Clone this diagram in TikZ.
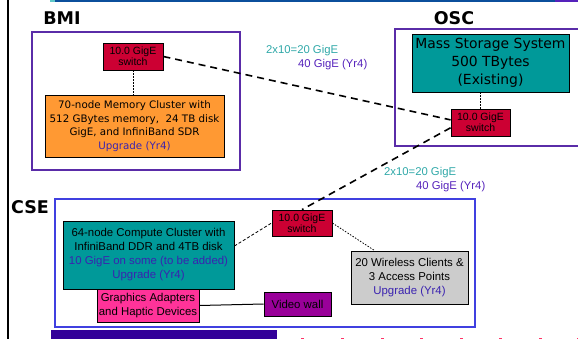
\documentclass[tikz,border=0pt]{standalone}
\usepackage{fontspec}
\setmainfont{Liberation Sans}
\newfontfamily\comicf{DejaVu Sans}
\definecolor{swred}{HTML}{CC0033}
\definecolor{orangef}{HTML}{FF9933}
\definecolor{tealf}{HTML}{009999}
\definecolor{pinkf}{HTML}{FF3399}
\definecolor{vwall}{HTML}{990099}
\definecolor{greyf}{HTML}{CCCCCC}
\definecolor{regpurple}{HTML}{5A2CA8}
\definecolor{regblue}{HTML}{4040E0}
\definecolor{upg}{HTML}{3A22B0}
\definecolor{labteal}{HTML}{2FA8A8}
\definecolor{labpurple}{HTML}{5522BB}
\definecolor{topblue}{HTML}{0B4F9C}
\definecolor{topteal}{HTML}{5FC8C8}
\definecolor{barpurple}{HTML}{330099}
\definecolor{markpink}{HTML}{FF3366}
\begin{document}
\begin{tikzpicture}[x=1pt,y=-1pt,
  nbox/.style={draw=black, line width=0.8pt, inner sep=0pt, align=center},
  swbox/.style={nbox, fill=swred, minimum width=60pt, minimum height=27pt,
     font=\fontsize{10.5}{11}\selectfont},
  region/.style={line width=1.6pt},
  title/.style={font=\comicf\bfseries\fontsize{17.5}{17.5}\selectfont},
  arial/.style={font=\fontsize{11.4}{14}\selectfont},
  lab/.style={anchor=west, inner sep=0pt, font=\fontsize{11.3}{13}\selectfont},
  trunk/.style={dashed, line width=1.6pt, dash pattern=on 7pt off 5pt},
  thindash/.style={line width=0.8pt, dash pattern=on 3pt off 2pt},
  dotline/.style={line width=0.8pt, dash pattern=on 1.5pt off 1.5pt}]
\useasboundingbox (0,0) rectangle (578,339);
% frame artifacts
\draw[line width=2pt, black] (8,0) -- (8,339);
\draw[line width=1.6pt, topteal] (50,0.8) -- (55,0.8);
\draw[line width=1.6pt, topblue] (55,0.8) -- (555,0.8);
\draw[line width=1.6pt, labpurple] (555,0.8) -- (578,0.8);
\fill[barpurple] (51,330) rectangle (277,339);
\foreach \x in {301,341,381,420,460,499,539,577}
  \fill[markpink] (\x,337.5) rectangle ++(3,1.5);
% regions
\draw[region, draw=regpurple] (32,32) rectangle (240,170);
\draw[region, draw=regpurple] (578,29) -- (395,29) -- (395,146) -- (578,146);
\draw[region, draw=regblue] (55,199) rectangle (475,327);
\node[title] (tbmi) at (62,18) {BMI};
\node[title] (tosc) at (454,18.5) {OSC};
\node[title] (tcse) at (30,207) {CSE};
% nodes
\node[swbox] (bmisw) at (133,56.5) {10.0 GigE\\switch};
\node[nbox, fill=orangef, minimum width=179pt, minimum height=62pt,
  font=\comicf\fontsize{10.3}{13.6}\selectfont] (mem) at (134.5,126)
  {70-node Memory Cluster with\\512 GBytes memory,~ 24 TB disk\\GigE, and InfiniBand SDR\\\textcolor{upg}{Upgrade (Yr4)}};
\node[nbox, fill=tealf, minimum width=157pt, minimum height=58pt,
  font=\comicf\fontsize{13.9}{18}\selectfont] (mass) at (490.5,63)
  {Mass Storage System\\500 TBytes\\(Existing)};
\node[swbox, minimum width=59pt] (oscsw) at (480.5,122.5) {10.0 GigE\\switch};
\node[swbox, minimum height=26pt] (csesw) at (302,223) {10.0 GigE\\switch};
\node[nbox, arial, fill=tealf, minimum width=171pt, minimum height=68pt] (comp) at (148.5,255)
  {64-node Compute Cluster with\\InfiniBand DDR and 4TB disk\\\textcolor{upg}{10 GigE on some (to be added)}\\\textcolor{upg}{Upgrade (Yr4)}};
\node[nbox, arial, fill=pinkf, minimum width=102pt, minimum height=33pt] (graph) at (148,305.5)
  {Graphics Adapters\\and Haptic Devices};
\node[nbox, arial, fill=vwall, minimum width=67pt, minimum height=24pt] (video) at (297.5,304)
  {Video wall};
\node[nbox, arial, fill=greyf, minimum width=117pt, minimum height=53pt] (wire) at (409.5,277.5)
  {20 Wireless Clients \&\\3 Access Points\\\textcolor{upg}{Upgrade (Yr4)}};
% labels
\node[lab, text=labteal] (l1a) at (266,50.7) {2x10=20 GigE};
\node[lab, text=labpurple] (l1b) at (298,65) {40 GigE (Yr4)};
\node[lab, text=labteal] (l2a) at (384,173) {2x10=20 GigE};
\node[lab, text=labpurple] (l2b) at (416,187) {40 GigE (Yr4)};
% connectors
\draw[dotline] (bmisw.south) -- (bmisw.south |- mem.north);
\draw[dotline] (oscsw.north) -- (oscsw.north |- mass.south);
\draw[trunk] (bmisw.east) -- (oscsw.175);
\draw[trunk] (oscsw.190) -- (csesw.north);
\draw[thindash] ([yshift=9pt]comp.east) -- (csesw.west);
\draw[dotline] (csesw.east) -- ([xshift=24pt]wire.north west);
\draw[line width=1pt] (graph.east) -- (video.west);
\end{tikzpicture}
\end{document}
